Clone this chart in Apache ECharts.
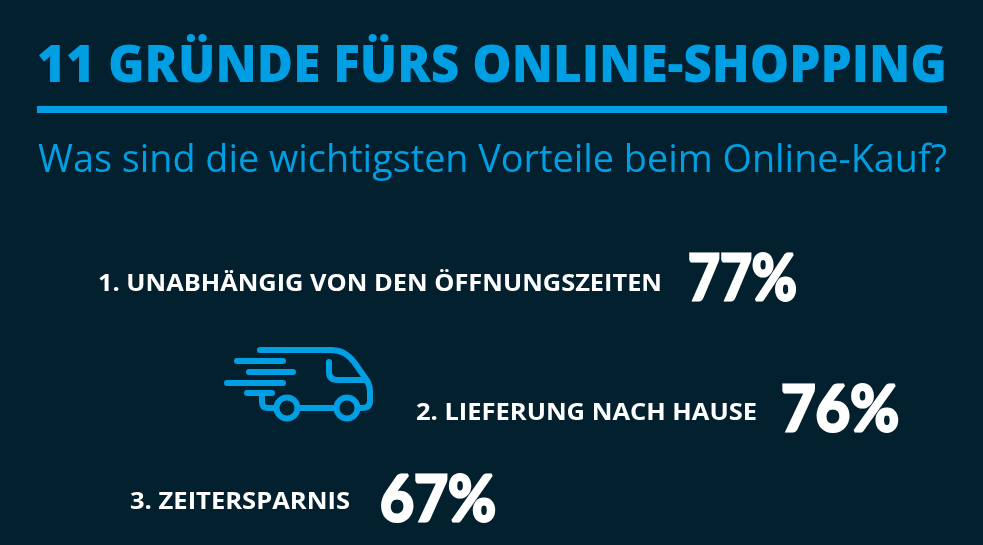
<!DOCTYPE html>
<html><head><meta charset="utf-8">
<style>html,body{margin:0;padding:0;background:#03202e}#c{width:983px;height:545px}</style>
<script src="https://cdn.jsdelivr.net/npm/echarts@6/dist/echarts.min.js"></script>
</head><body><div id="c"></div>
<script>
const titleText = '11 GRÜNDE FÜRS ONLINE-SHOPPING';
const subtitleText = 'Was sind die wichtigsten Vorteile beim Online-Kauf?';
const categories = ['1. UNABHÄNGIG VON DEN ÖFFNUNGSZEITEN', '2. LIEFERUNG NACH HAUSE', '3. ZEITERSPARNIS'];
const values = [77, 76, 67];

const BLUE = '#009ee3', BG = '#03202e', WHITE = '#ffffff';
const labelBoxes = [[98, 284, 564], [416, 413, 341], [130, 502, 220]];
const valueBoxes = [[688, 279, 109], [781, 410, 118], [380, 500, 116]];

const ctx = document.createElement('canvas').getContext('2d');
function fitted(text, x, y, width, font, fill, strokeWidth) {
  ctx.font = font;
  const s = width / ctx.measureText(text).width;
  const style = { text, x: 0, y: 0, font, fill, textAlign: 'left', textVerticalAlign: 'middle', textBaseline: 'middle' };
  if (strokeWidth) { style.stroke = fill; style.lineWidth = strokeWidth; }
  return { type: 'text', x, y, scaleX: s, scaleY: 1, style };
}
const van = 'M260 350 L331 350 Q345 350 354 362 L366 379 Q370 385 370 391 L370 401 Q370 408 362 408 L359 408 ' +
  'M329 362 L329 372 Q329 380 338 380 L365 380 ' +
  'M237 361 L283 361 M249 372 L293 372 M227 383 L283 383 M247 393 L272 393 ' +
  'M262 395 L262 402 Q262 408 268 408 L275 408 M298 408 L335 408';
const chart = echarts.init(document.getElementById('c'), null, { renderer: 'canvas' });
chart.setOption({
  backgroundColor: BG,
  animation: false,
  graphic: [
    fitted(titleText, 37, 67, 910, '800 51px "Open Sans"', BLUE),
    { type: 'rect', shape: { x: 37, y: 106, width: 910, height: 7 }, style: { fill: BLUE } },
    fitted(subtitleText, 38, 161, 909, '400 38px "Open Sans"', BLUE),
    { type: 'circle', shape: { cx: 287, cy: 408, r: 10.5 }, style: { fill: 'none', stroke: BLUE, lineWidth: 6 } },
    { type: 'circle', shape: { cx: 347, cy: 408, r: 10.5 }, style: { fill: 'none', stroke: BLUE, lineWidth: 6 } }
  ],
  series: [{
    type: 'custom',
    coordinateSystem: 'none',
    silent: true,
    data: values,
    renderItem(params, api) {
      const i = params.dataIndex, L = labelBoxes[i], V = valueBoxes[i];
      const children = [
        fitted(categories[i], L[0], L[1], L[2], '700 23px "Open Sans"', WHITE),
        fitted(api.value(0) + '%', V[0], V[1], V[2], '700 64px Lato', WHITE, 3)
      ];
      if (i === 0) children.push({ type: 'path', shape: { pathData: van },
        style: { fill: 'none', stroke: BLUE, lineWidth: 6, lineCap: 'round', lineJoin: 'round' } });
      return { type: 'group', children };
    }
  }]
});
</script></body></html>
